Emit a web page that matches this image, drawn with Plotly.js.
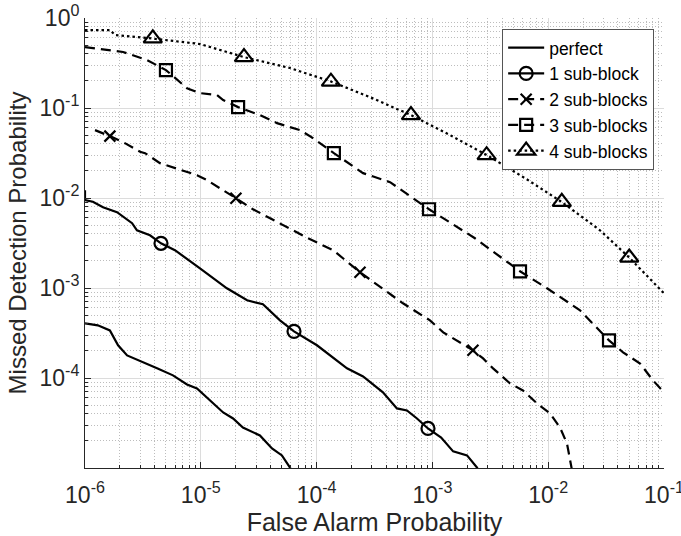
<!DOCTYPE html>
<html><head><meta charset="utf-8">
<script src="https://cdn.plot.ly/plotly-3.0.1.min.js"></script>
<style>html,body{margin:0;padding:0;background:#fff}#chart{width:681px;height:536px}</style>
</head><body><div id="chart"></div>
<script>
// tick definitions
const xTickVals = [1e-6, 1e-5, 1e-4, 1e-3, 1e-2, 1e-1];
const xTickText = ['10<sup>-6</sup>', '10<sup>-5</sup>', '10<sup>-4</sup>', '10<sup>-3</sup>', '10<sup>-2</sup>', '10<sup>-1</sup>'];
const yTickVals = [1e-4, 1e-3, 1e-2, 1e-1, 1];
const yTickText = ['10<sup>-4</sup>', '10<sup>-3</sup>', '10<sup>-2</sup>', '10<sup>-1</sup>', '10<sup>0</sup>'];
const minorMult = [2, 3, 4, 5, 6, 7, 8, 9];

const seriesNames = ['perfect', '1 sub-block', '2 sub-blocks', '3 sub-blocks', '4 sub-blocks'];

// perfect
const perfectX = [1e-6, 1.29e-6, 1.64e-6, 1.78e-6, 1.93e-6, 2.31e-6, 3.17e-6, 4.19e-6, 5.75e-6, 7.60e-6, 9.27e-6, 1.13e-5, 1.56e-5, 1.90e-5, 2.31e-5, 3.24e-5, 3.58e-5, 4.12e-5, 5.02e-5, 5.89e-5, 6.14e-5];
const perfectY = [4.05e-4, 3.85e-4, 3.38e-4, 2.83e-4, 2.31e-4, 1.78e-4, 1.51e-4, 1.28e-4, 1.07e-4, 8.49e-5, 7.66e-5, 6.08e-5, 4.14e-5, 3.55e-5, 2.82e-5, 2.30e-5, 2.02e-5, 1.65e-5, 1.38e-5, 1.01e-5, 8.9e-6];

// 1 sub-block
const oneX = [1e-6, 1e-6, 1.17e-6, 1.43e-6, 1.89e-6, 2.55e-6, 2.81e-6, 3.64e-6, 4.53e-6, 5.98e-6, 9.84e-6, 1.68e-5, 2.51e-5, 3.44e-5, 4.83e-5, 6.38e-5, 1.007e-4, 1.39e-4, 1.83e-4, 2.52e-4, 3.74e-4, 4.94e-4, 6.03e-4, 7.36e-4, 9.16e-4, 1.19e-3, 1.51e-3, 1.99e-3, 2.43e-3, 2.58e-3];
const oneY = [0.01221, 0.00946, 0.0091, 0.0079, 0.00695, 0.00525, 0.00438, 0.00385, 0.00314, 0.00263, 0.001656, 9.93e-4, 7.3e-4, 6.59e-4, 4.37e-4, 3.30e-4, 2.31e-4, 1.69e-4, 1.28e-4, 1.04e-4, 6.92e-5, 4.59e-5, 4.36e-5, 3.55e-5, 2.75e-5, 2.18e-5, 1.53e-5, 1.38e-5, 1.01e-5, 8.5e-6];
const oneMarkX = [4.53e-6, 6.38e-5, 9.16e-4];
const oneMarkY = [0.00314, 3.30e-4, 2.75e-5];

// 2 sub-blocks
const twoX = [1.22e-6, 1.64e-6, 2.21e-6, 2.99e-6, 3.30e-6, 4.19e-6, 4.44e-6, 9.27e-6, 1.13e-5, 2.01e-5, 2.82e-5, 8.43e-5, 1.39e-4, 2.37e-4, 5.57e-4, 9.53e-4, 1.24e-3, 2.24e-3, 2.74e-3, 3.34e-3, 4.68e-3, 6.05e-3, 8.0e-3, 0.01037, 0.01265, 0.01453, 0.01543, 0.01606];
const twoY = [0.0568, 0.0487, 0.0407, 0.0327, 0.0315, 0.0253, 0.0244, 0.01794, 0.01578, 0.00995, 0.0075, 0.00357, 0.00263, 0.001495, 6.76e-4, 4.37e-4, 3.21e-4, 2.03e-4, 1.65e-4, 1.28e-4, 8.71e-5, 7.28e-5, 5.22e-5, 4.04e-5, 2.82e-5, 1.87e-5, 1.31e-5, 9.4e-6];
const twoMarkX = [1.64e-6, 2.01e-5, 2.37e-4, 2.24e-3];
const twoMarkY = [0.0487, 0.00995, 0.001495, 2.03e-4];

// 3 sub-blocks
const threeX = [1e-6, 2.13e-6, 3.43e-6, 5.00e-6, 7.60e-6, 9.84e-6, 1.38e-5, 1.56e-5, 2.10e-5, 3.24e-5, 4.55e-5, 7.19e-5, 9.31e-5, 1.41e-4, 2.52e-4, 4.31e-4, 6.80e-4, 9.35e-4, 2.33e-3, 5.71e-3, 9.77e-3, 0.01883, 0.0335, 0.0443, 0.0621, 0.0804, 0.1];
const threeY = [0.476, 0.419, 0.341, 0.264, 0.166, 0.1465, 0.139, 0.1225, 0.1023, 0.0834, 0.0679, 0.0568, 0.0463, 0.0315, 0.01888, 0.0150, 0.00995, 0.0075, 0.00357, 0.001534, 9.93e-4, 5.65e-4, 2.62e-4, 1.93e-4, 1.45e-4, 9.4e-5, 6.92e-5];
const threeMarkX = [5.0e-6, 2.1e-5, 1.41e-4, 9.35e-4, 5.71e-3, 0.0335];
const threeMarkY = [0.264, 0.1023, 0.0315, 0.0075, 0.001534, 2.62e-4];

// 4 sub-blocks
const fourX = [1e-6, 1.64e-6, 1.82e-6, 3.79e-6, 9.84e-6, 2.36e-5, 5.89e-5, 1.33e-4, 2.89e-4, 6.53e-4, 1.42e-3, 2.96e-3, 6.31e-3, 0.01316, 0.028, 0.0499, 0.1];
const fourY = [0.735, 0.735, 0.647, 0.592, 0.514, 0.368, 0.278, 0.197, 0.132, 0.0834, 0.05, 0.0299, 0.0166, 0.00898, 0.00438, 0.00219, 8.73e-4];
const fourMarkX = [3.85e-6, 2.36e-5, 1.33e-4, 6.53e-4, 2.94e-3, 0.0131, 0.0501];
const fourMarkY = [0.594, 0.368, 0.196, 0.0834, 0.0299, 0.00905, 0.00218];

const INK = '#000000';
const LW = 2.2;
const styles = [
  {dash: 'solid', symbol: null, size: 0},
  {dash: 'solid', symbol: 'circle-open', size: 13},
  {dash: '10px,6px', symbol: 'x-thin-open', size: 11},
  {dash: '10px,6px', symbol: 'square-open', size: 12},
  {dash: '2.5px,3px', symbol: 'triangle-up-open', size: 16}
];
const lineData = [[perfectX, perfectY], [oneX, oneY], [twoX, twoY], [threeX, threeY], [fourX, fourY]];
const markData = [null, [oneMarkX, oneMarkY], [twoMarkX, twoMarkY], [threeMarkX, threeMarkY], [fourMarkX, fourMarkY]];

const traces = [];
lineData.forEach((d, i) => {
  traces.push({x: d[0], y: d[1], mode: 'lines', type: 'scatter', showlegend: false, hoverinfo: 'skip',
    line: {color: INK, width: LW, dash: styles[i].dash}});
});
markData.forEach((d, i) => {
  if (!d) return;
  traces.push({x: d[0], y: d[1], mode: 'markers', type: 'scatter', showlegend: false, hoverinfo: 'skip',
    marker: {symbol: styles[i].symbol, size: styles[i].size, color: INK, line: {color: INK, width: 2.2}}});
});
seriesNames.forEach((name, i) => {
  const t = {x: [null], y: [null], type: 'scatter', name: name, mode: styles[i].symbol ? 'lines+markers' : 'lines',
    line: {color: INK, width: LW, dash: styles[i].dash}};
  if (styles[i].symbol) t.marker = {symbol: styles[i].symbol, size: styles[i].size, color: INK, line: {color: INK, width: 2.2}};
  traces.push(t);
});

function minorTicks(decades) {
  const out = [];
  decades.forEach(d => minorMult.forEach(m => out.push(d * m)));
  return out;
}

const FONT = 'Liberation Sans, Arial, sans-serif';
const AX = '#262626';
const layout = {
  width: 681, height: 536,
  margin: {l: 85, r: 17, t: 18, b: 68},
  paper_bgcolor: '#fff', plot_bgcolor: '#fff',
  font: {family: FONT, color: AX},
  showlegend: true,
  legend: {x: 0.983, y: 0.976, xanchor: 'right', yanchor: 'top', bgcolor: '#fff',
    bordercolor: '#555', borderwidth: 1, font: {family: FONT, size: 17.5, color: '#000'},
    itemwidth: 36, tracegroupgap: 0},
  xaxis: {
    type: 'log', range: [-6, -1],
    tickmode: 'array', tickvals: xTickVals, ticktext: xTickText, ticklabeloverflow: 'allow',
    ticklabelstandoff: 6,
    tickfont: {size: 23, color: AX}, ticks: 'inside', ticklen: 6, tickcolor: AX,
    showline: true, linecolor: AX, linewidth: 1, mirror: false,
    showgrid: true, gridcolor: '#dcdcdc', gridwidth: 1, zeroline: false,
    minor: {tickmode: 'array', tickvals: minorTicks([1e-6, 1e-5, 1e-4, 1e-3, 1e-2]), ticks: 'inside', ticklen: 3,
      tickcolor: AX, showgrid: true, gridcolor: '#bdbdbd', griddash: '1px,2px', gridwidth: 1},
    title: {text: 'False Alarm Probability', font: {size: 25, color: AX}, standoff: 2}
  },
  yaxis: {
    type: 'log', range: [-5, 0],
    tickmode: 'array', tickvals: yTickVals, ticktext: yTickText, ticklabeloverflow: 'allow',
    tickfont: {size: 23, color: AX}, ticks: 'inside', ticklen: 6, tickcolor: AX,
    showline: true, linecolor: AX, linewidth: 1, mirror: false,
    showgrid: true, gridcolor: '#dcdcdc', gridwidth: 1, zeroline: false,
    minor: {tickmode: 'array', tickvals: minorTicks([1e-5, 1e-4, 1e-3, 1e-2, 1e-1]), ticks: 'inside', ticklen: 3,
      tickcolor: AX, showgrid: true, gridcolor: '#bdbdbd', griddash: '1px,2px', gridwidth: 1},
    title: {text: 'Missed Detection Probability', font: {size: 24, color: AX}, standoff: 6}
  }
};

Plotly.newPlot('chart', traces, layout, {staticPlot: true, displayModeBar: false});
</script>
</body></html>
